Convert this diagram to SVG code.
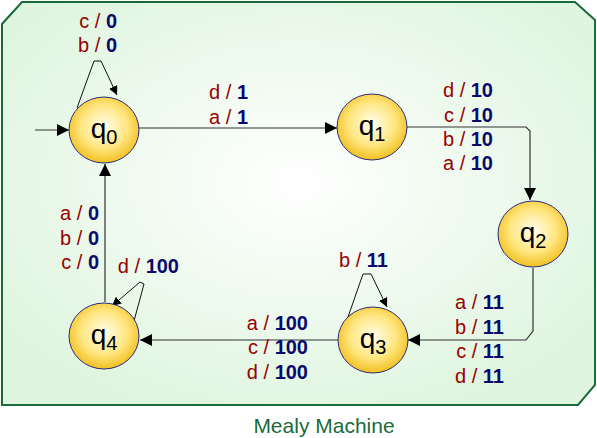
<svg xmlns="http://www.w3.org/2000/svg" width="597" height="438" viewBox="0 0 597 438">
<style>
text{font-family:"Liberation Sans",Arial,sans-serif}
.in{fill:#990000;font-size:20px}
.out{fill:#0a0a6e;font-weight:bold}
.st{fill:url(#ng);stroke:#2a2a80;stroke-width:1}
.nl{font-size:28px;fill:#000}
.c{fill:none;stroke:#333;stroke-width:1.2}
.cl{fill:none;stroke:#111;stroke-width:1}
</style>
<defs>
<radialGradient id="bg" cx="0.5" cy="0.45" r="0.6"><stop offset="0" stop-color="#ffffff"/><stop offset="1" stop-color="#dff5df"/></radialGradient>
<radialGradient id="ng" cx="0.5" cy="0.45" r="0.55"><stop offset="0" stop-color="#ffffee"/><stop offset="0.6" stop-color="#ffe680"/><stop offset="1" stop-color="#f2c020"/></radialGradient>
<marker id="a" viewBox="0 0 10 10" refX="10" refY="5" markerWidth="9" markerHeight="9" markerUnits="userSpaceOnUse" orient="auto"><path d="M0,0L10,5L0,10z" fill="#000"/></marker>
<marker id="b" viewBox="0 0 10 10" refX="10" refY="5" markerWidth="12" markerHeight="12" markerUnits="userSpaceOnUse" orient="auto"><path d="M0,0L10,5L0,10z" fill="#000"/></marker>
</defs>
<path d="M22,2H575L595,20V385L578,405H2V24Z" fill="url(#bg)" stroke="#1a6b3a" stroke-width="2"/>
<text x="324" y="433" text-anchor="middle" font-size="21" fill="#1a6b3a">Mealy Machine</text>
<g id="connectors">
<path class="c" d="M35,130H69" marker-end="url(#b)"/>
<path class="c" d="M139,128H337" marker-end="url(#b)"/>
<path class="c" d="M407,127H526L530,131V200" marker-end="url(#b)"/>
<path class="c" d="M533,268V331L526,340H408" marker-end="url(#b)"/>
<path class="c" d="M338,340H140" marker-end="url(#b)"/>
<path class="c" d="M105,302V164" marker-end="url(#b)"/>
<path class="cl" d="M77,108L94,61H101L117,95" marker-end="url(#a)"/>
<path class="cl" d="M348,317L363,274H371L387,307" marker-end="url(#a)"/>
<path class="cl" d="M134,321L144,284L140,282L112,306" marker-end="url(#a)"/>
<text class="in" x="117" y="28" text-anchor="end">c / <tspan class="out">0</tspan></text>
<text class="in" x="117" y="52" text-anchor="end">b / <tspan class="out">0</tspan></text>
<text class="in" x="248" y="99" text-anchor="end">d / <tspan class="out">1</tspan></text>
<text class="in" x="248" y="124" text-anchor="end">a / <tspan class="out">1</tspan></text>
<text class="in" x="493" y="97" text-anchor="end">d / <tspan class="out">10</tspan></text>
<text class="in" x="493" y="122" text-anchor="end">c / <tspan class="out">10</tspan></text>
<text class="in" x="493" y="146" text-anchor="end">b / <tspan class="out">10</tspan></text>
<text class="in" x="493" y="170" text-anchor="end">a / <tspan class="out">10</tspan></text>
<text class="in" x="504" y="309" text-anchor="end">a / <tspan class="out">11</tspan></text>
<text class="in" x="504" y="334" text-anchor="end">b / <tspan class="out">11</tspan></text>
<text class="in" x="504" y="358" text-anchor="end">c / <tspan class="out">11</tspan></text>
<text class="in" x="504" y="383" text-anchor="end">d / <tspan class="out">11</tspan></text>
<text class="in" x="388" y="267" text-anchor="end">b / <tspan class="out">11</tspan></text>
<text class="in" x="308" y="330" text-anchor="end">a / <tspan class="out">100</tspan></text>
<text class="in" x="308" y="354" text-anchor="end">c / <tspan class="out">100</tspan></text>
<text class="in" x="308" y="379" text-anchor="end">d / <tspan class="out">100</tspan></text>
<text class="in" x="99" y="220" text-anchor="end">a / <tspan class="out">0</tspan></text>
<text class="in" x="99" y="245" text-anchor="end">b / <tspan class="out">0</tspan></text>
<text class="in" x="99" y="269" text-anchor="end">c / <tspan class="out">0</tspan></text>
<text class="in" x="179" y="273" text-anchor="end">d / <tspan class="out">100</tspan></text>
</g>
<g id="q0"><ellipse class="st" cx="104" cy="130" rx="35" ry="33"/><text class="nl" x="104" y="138" text-anchor="middle">q<tspan font-size="20" dy="6">0</tspan></text></g>
<g id="q1"><ellipse class="st" cx="372" cy="127" rx="35" ry="33"/><text class="nl" x="372" y="135" text-anchor="middle">q<tspan font-size="20" dy="6">1</tspan></text></g>
<g id="q2"><ellipse class="st" cx="533" cy="234" rx="35" ry="33"/><text class="nl" x="533" y="242" text-anchor="middle">q<tspan font-size="20" dy="6">2</tspan></text></g>
<g id="q3"><ellipse class="st" cx="373" cy="340" rx="35" ry="33"/><text class="nl" x="373" y="348" text-anchor="middle">q<tspan font-size="20" dy="6">3</tspan></text></g>
<g id="q4"><ellipse class="st" cx="104" cy="336" rx="35" ry="33"/><text class="nl" x="104" y="344" text-anchor="middle">q<tspan font-size="20" dy="6">4</tspan></text></g>
</svg>
